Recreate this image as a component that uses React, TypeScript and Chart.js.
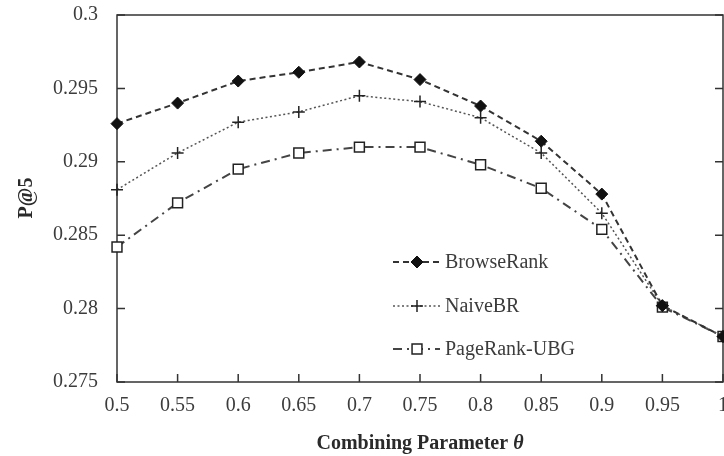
import React, { useEffect, useRef } from 'react';
import { Chart, registerables } from 'chart.js';

Chart.register(...registerables);

const thetaLabels = ['0.5', '0.55', '0.6', '0.65', '0.7', '0.75', '0.8', '0.85', '0.9', '0.95', '1'];
const browseRank = [0.2926, 0.2940, 0.2955, 0.2961, 0.2968, 0.2956, 0.2938, 0.2914, 0.2878, 0.2802, 0.2781];
const naiveBR = [0.2881, 0.2906, 0.2927, 0.2934, 0.2945, 0.2941, 0.2930, 0.2906, 0.2865, 0.2802, 0.2781];
const pageRankUBG = [0.2842, 0.2872, 0.2895, 0.2906, 0.2910, 0.2910, 0.2898, 0.2882, 0.2854, 0.2801, 0.2781];
const seriesNames = ['BrowseRank', 'NaiveBR', 'PageRank-UBG'];
const yMin = 0.275;
const yMax = 0.3;
const yStep = 0.005;

const SERIF = '"Liberation Serif", "DejaVu Serif", serif';
const TEXT = '#3c3c3c';
const AXIS = '#333';

function drawMarker(ctx: CanvasRenderingContext2D, style: string, x: number, y: number, r: number, fill: string, stroke: string, lw: number) {
  ctx.save();
  ctx.setLineDash([]);
  ctx.lineWidth = lw;
  ctx.strokeStyle = stroke;
  ctx.fillStyle = fill;
  ctx.beginPath();
  if (style === 'rectRot') {
    ctx.moveTo(x, y - r); ctx.lineTo(x + r, y); ctx.lineTo(x, y + r); ctx.lineTo(x - r, y); ctx.closePath();
    ctx.fill(); ctx.stroke();
  } else if (style === 'cross') {
    ctx.moveTo(x - r, y); ctx.lineTo(x + r, y); ctx.moveTo(x, y - r); ctx.lineTo(x, y + r);
    ctx.stroke();
  } else {
    const s = r * Math.SQRT1_2;
    ctx.rect(x - s, y - s, 2 * s, 2 * s);
    ctx.fill(); ctx.stroke();
  }
  ctx.restore();
}

const framePlugin = {
  id: 'frame',
  beforeDatasetsDraw(chart: any) {
    const { ctx, chartArea, scales } = chart;
    const { left, right, top, bottom } = chartArea;
    ctx.save();
    ctx.strokeStyle = AXIS;
    ctx.lineWidth = 1.5;
    ctx.strokeRect(left, top, right - left, bottom - top);
    const tl = 8;
    ctx.beginPath();
    scales.y.ticks.forEach((_t: any, i: number) => {
      const py = scales.y.getPixelForTick(i);
      ctx.moveTo(left, py); ctx.lineTo(left + tl, py);
      ctx.moveTo(right, py); ctx.lineTo(right - tl, py);
    });
    scales.x.ticks.forEach((_t: any, i: number) => {
      const px = scales.x.getPixelForTick(i);
      ctx.moveTo(px, bottom); ctx.lineTo(px, bottom - tl);
    });
    ctx.stroke();
    ctx.restore();
  },
  afterDraw(chart: any) {
    const { ctx, chartArea } = chart;
    const { left, right } = chartArea;
    ctx.save();
    // x title
    ctx.fillStyle = '#2a2a2a';
    ctx.textBaseline = 'middle';
    ctx.textAlign = 'left';
    const t1 = 'Combining Parameter ';
    const t2 = 'θ';
    const f1 = `bold 20px ${SERIF}`;
    const f2 = `italic bold 20px ${SERIF}`;
    ctx.font = f1;
    const w1 = ctx.measureText(t1).width;
    ctx.font = f2;
    const w2 = ctx.measureText(t2).width;
    const sx = (left + right) / 2 - (w1 + w2) / 2;
    ctx.font = f1;
    ctx.fillText(t1, sx, 444);
    ctx.font = f2;
    ctx.fillText(t2, sx + w1, 444);
    // y title
    ctx.save();
    ctx.translate(27, 198);
    ctx.rotate(-Math.PI / 2);
    ctx.textAlign = 'center';
    ctx.font = `bold 20px ${SERIF}`;
    ctx.fillText('P@5', 0, 0);
    ctx.restore();
    // legend
    const rows = [262, 306, 349];
    chart.data.datasets.forEach((ds: any, i: number) => {
      const y = rows[i];
      ctx.save();
      ctx.strokeStyle = ds.borderColor;
      ctx.lineWidth = ds.borderWidth;
      ctx.setLineDash(ds.borderDash || []);
      ctx.beginPath();
      ctx.moveTo(393, y); ctx.lineTo(440, y);
      ctx.stroke();
      ctx.restore();
      drawMarker(ctx, ds.pointStyle, 417, y, ds.pointRadius, ds.pointBackgroundColor, ds.pointBorderColor, ds.pointBorderWidth);
      ctx.fillStyle = TEXT;
      ctx.font = `20px ${SERIF}`;
      ctx.textAlign = 'left';
      ctx.textBaseline = 'middle';
      ctx.fillText(ds.label, 445, y + 1);
    });
    ctx.restore();
  },
};

export default function App() {
  const ref = useRef<HTMLCanvasElement>(null);
  useEffect(() => {
    document.body.style.margin = '0';
    document.body.style.overflow = 'hidden';
    const chart = new Chart(ref.current as HTMLCanvasElement, {
      type: 'line',
      data: {
        labels: thetaLabels,
        datasets: [
          {
            label: seriesNames[0],
            data: browseRank,
            borderColor: '#333',
            borderWidth: 2,
            borderDash: [6, 4],
            pointStyle: 'rectRot',
            pointRadius: 6,
            pointBackgroundColor: '#111',
            pointBorderColor: '#111',
            pointBorderWidth: 1,
            clip: false,
            tension: 0,
          },
          {
            label: seriesNames[1],
            data: naiveBR,
            borderColor: '#555',
            borderWidth: 1.5,
            borderDash: [2, 2.5],
            pointStyle: 'cross',
            pointRadius: 6,
            pointBackgroundColor: '#222',
            pointBorderColor: '#222',
            pointBorderWidth: 1.5,
            clip: false,
            tension: 0,
          },
          {
            label: seriesNames[2],
            data: pageRankUBG,
            borderColor: '#444',
            borderWidth: 2,
            borderDash: [9, 5, 2, 5],
            pointStyle: 'rect',
            pointRadius: 7,
            pointBackgroundColor: '#fff',
            pointBorderColor: '#222',
            pointBorderWidth: 1.5,
            clip: false,
            tension: 0,
          },
        ] as any,
      },
      options: {
        animation: false,
        responsive: true,
        maintainAspectRatio: false,
        layout: { autoPadding: false, padding: { left: 0, right: 1, top: 15, bottom: 0 } },
        plugins: { legend: { display: false }, tooltip: { enabled: false } },
        scales: {
          x: {
            type: 'category',
            offset: false,
            grid: { display: false, drawTicks: false },
            border: { display: false },
            ticks: {
              color: TEXT,
              font: { family: SERIF, size: 20 },
              padding: 12,
              maxRotation: 0,
              autoSkip: false,
            },
            afterFit: (s: any) => {
              s.paddingLeft = 0;
              s.paddingRight = 0;
              s.height = 74;
            },
          },
          y: {
            type: 'linear',
            min: yMin,
            max: yMax,
            grid: { display: false, drawTicks: false },
            border: { display: false },
            ticks: {
              stepSize: yStep,
              color: TEXT,
              font: { family: SERIF, size: 20 },
              padding: 19,
              callback: (v: any) => String(Number(Number(v).toFixed(3))),
            },
            afterFit: (s: any) => {
              s.width = 117;
              s.paddingTop = 0;
              s.paddingBottom = 0;
            },
          },
        },
      } as any,
      plugins: [framePlugin],
    });
    return () => chart.destroy();
  }, []);
  return (
    <div style={{ width: 724, height: 456, position: 'relative' }}>
      <canvas ref={ref} />
    </div>
  );
}
